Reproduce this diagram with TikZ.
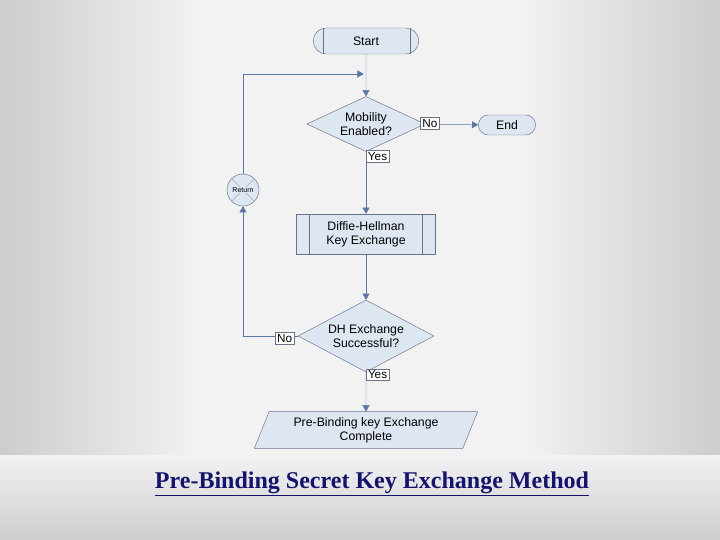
\documentclass[tikz,border=0pt]{standalone}
\usepackage{fontspec}
\setmainfont{Liberation Serif}
\setsansfont{Liberation Sans}
\usetikzlibrary{shapes,arrows,positioning,shapes.geometric,shapes.symbols}
\definecolor{boxfill}{RGB}{222,230,242}
\definecolor{boxline}{RGB}{105,115,135}
\definecolor{flowblue}{RGB}{75,115,185}
\definecolor{curtain}{RGB}{205,205,205}
\definecolor{titlenavy}{RGB}{20,20,110}

\begin{document}
\begin{tikzpicture}[x=0.03cm,y=-0.03cm, font=\sffamily\fontsize{10.5}{12}\selectfont,
    box/.style={draw=boxline, fill=boxfill, thin},
    flow/.style={draw=flowblue!70!gray, -triangle 60, thin},
    tag/.style={draw=boxline, fill=white, inner sep=1.5pt, font=\sffamily\fontsize{10}{11}\selectfont}]
    % background
    \shade[left color=curtain, right color=white!95!black] (0,0) rectangle (200,540);
    \shade[left color=white!95!black, right color=curtain] (520,0) rectangle (720,540);
    \fill[white!95!black] (200,0) rectangle (520,540);
    \shade[top color=white!95!black, bottom color=curtain] (0,455) rectangle (720,540);
    \useasboundingbox (0,0) rectangle (720,540);

    \node[box, rounded rectangle, minimum width=3.4cm, minimum height=0.78cm] (start) at (366,41) {Start};
    \draw[boxline] (323,28) -- (323,54) (410,28) -- (410,54);
    \node[box, diamond, aspect=2.15, minimum width=3.55cm, minimum height=1.65cm, inner sep=0pt, align=center] (mob) at (366,124) {Mobility\\Enabled?};
    \node[box, rounded rectangle, minimum width=1.95cm, minimum height=0.6cm] (end) at (507,125) {End};
    \node[box, rectangle, minimum width=4.17cm, minimum height=1.2cm, align=center] (dh) at (366,234) {Diffie-Hellman\\Key Exchange};
    \draw[boxline] (309,214) -- (309,254) (422,214) -- (422,254);
    \node[box, diamond, aspect=1.9, minimum width=4.08cm, minimum height=2.16cm, inner sep=0pt, align=center] (succ) at (366,336) {DH Exchange\\Successful?};
    \node[box, trapezium, trapezium left angle=68, trapezium right angle=112, minimum width=5.5cm, minimum height=1.1cm, inner sep=1pt, align=center] (done) at (366,430) {Pre-Binding key Exchange\\Complete};
    \node[box, circle, minimum size=0.96cm, inner sep=0pt] (ret) at (243,190) {};
    \draw[boxline!60] (ret.45) -- (ret.225) (ret.135) -- (ret.315);
    \node[font=\sffamily\fontsize{6}{7}\selectfont, fill=boxfill, inner sep=0.5pt] at (ret) {Return};
    \coordinate (loop) at (366,74);

    \draw[flow] (start) -- (mob);
    \draw[flow] (mob) -- (end) node[tag, pos=0.1, below=-6pt] {No};
    \draw[flow] (mob) -- (dh) node[tag, pos=0.07, right=0pt] {Yes};
    \draw[flow] (dh) -- (succ);
    \draw[flow] (succ) -- (done) node[tag, pos=0.06, right=0pt] {Yes};
    \draw[flow] (succ.west) -| (ret.south) node[tag, pos=0.12, below=-3pt] {No};
    \draw[flow] (ret.north) |- ([xshift=-2pt]loop);

    \node[text=titlenavy, font=\rmfamily\bfseries\fontsize{20.5}{23}\selectfont] (title) at (372,484) {\underline{Pre-Binding Secret Key Exchange Method}};
\end{tikzpicture}
\end{document}
